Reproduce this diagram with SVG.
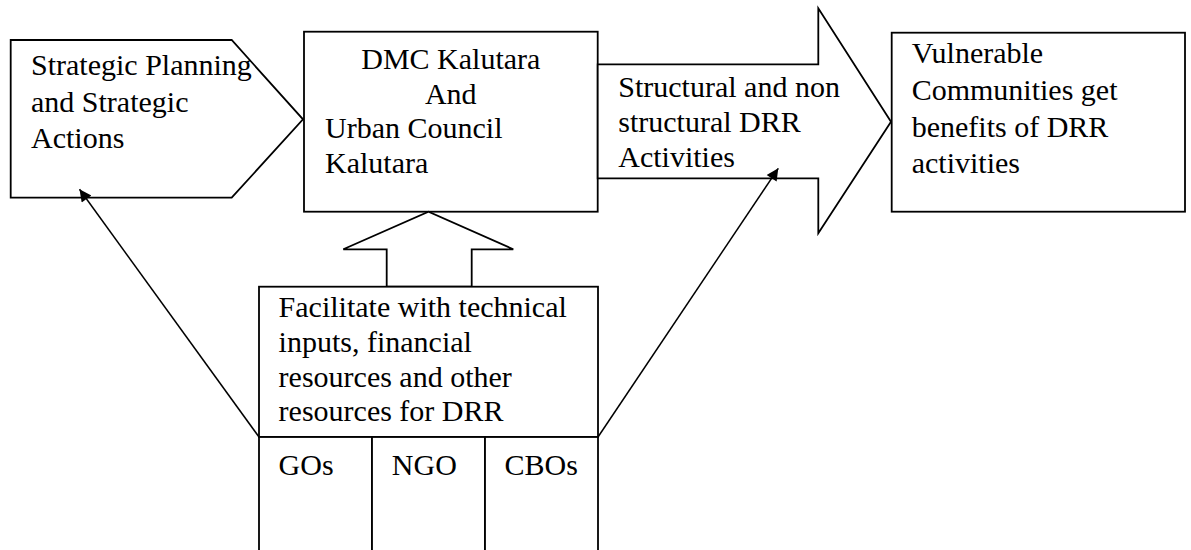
<svg xmlns="http://www.w3.org/2000/svg" width="1191" height="550" viewBox="0 0 1191 550">
<style>
.s{fill:#fff;stroke:#000;stroke-width:1.8;stroke-linejoin:miter}
.t{font-family:"Liberation Serif","Times New Roman",serif;font-size:30px;fill:#000}
.c{text-anchor:middle}
.l{stroke:#000;stroke-width:1.5;fill:none}
</style>
<defs>
<marker id="ah" viewBox="0 0 10 10" refX="10" refY="5" markerWidth="16" markerHeight="12" markerUnits="userSpaceOnUse" orient="auto">
<path d="M0,0 L10,5 L0,10 z" fill="#000"/>
</marker>
</defs>
<rect width="1191" height="550" fill="#fff"/>
<g id="strategic">
<polygon class="s" points="10.7,40 231.7,40 303,119.3 231.7,197.7 10.7,197.7"/>
<text class="t" x="31" y="75">Strategic Planning</text>
<text class="t" x="31" y="111.5">and Strategic</text>
<text class="t" x="31" y="148">Actions</text>
</g>
<g id="dmc">
<rect class="s" x="304" y="31.7" width="293.7" height="180"/>
<text class="t c" x="450.8" y="69">DMC Kalutara</text>
<text class="t c" x="450.8" y="103.5">And</text>
<text class="t" x="325" y="138.3">Urban Council</text>
<text class="t" x="325" y="172.7">Kalutara</text>
</g>
<g id="drr-activities">
<polygon class="s" points="597.7,64.3 818.3,64.3 818.3,8.3 891,121.7 818.3,233.3 818.3,178.3 597.7,178.3"/>
<text class="t" x="618.3" y="96.7">Structural and non</text>
<text class="t" x="618.3" y="131.7">structural DRR</text>
<text class="t" x="618.3" y="166.7">Activities</text>
</g>
<g id="vulnerable">
<rect class="s" x="891.7" y="32.7" width="293.3" height="179"/>
<text class="t" x="911.7" y="63.3">Vulnerable</text>
<text class="t" x="911.7" y="100">Communities get</text>
<text class="t" x="911.7" y="136.7">benefits of DRR</text>
<text class="t" x="911.7" y="173.3">activities</text>
</g>
<g id="up-arrow">
<polygon class="s" points="386.7,286.7 386.7,249.3 343.3,249.3 428.5,211.7 513.3,249.3 471.7,249.3 471.7,286.7"/>
</g>
<g id="facilitate">
<rect class="s" x="259" y="286.7" width="339" height="150.3"/>
<text class="t" x="278.6" y="316.7">Facilitate with technical</text>
<text class="t" x="278.6" y="351.7">inputs, financial</text>
<text class="t" x="278.6" y="386.7">resources and other</text>
<text class="t" x="278.6" y="420.5">resources for DRR</text>
</g>
<g id="gos">
<rect class="s" x="259" y="437" width="113" height="130"/>
<text class="t" x="278.6" y="475">GOs</text>
</g>
<g id="ngo">
<rect class="s" x="372" y="437" width="113" height="130"/>
<text class="t" x="391.8" y="475">NGO</text>
</g>
<g id="cbos">
<rect class="s" x="485" y="437" width="113" height="130"/>
<text class="t" x="504.5" y="475">CBOs</text>
</g>
<g id="connectors">
<line class="l" x1="259" y1="437" x2="79.5" y2="189.3" marker-end="url(#ah)"/>
<line class="l" x1="598" y1="437" x2="778.3" y2="168.3" marker-end="url(#ah)"/>
</g>
</svg>
